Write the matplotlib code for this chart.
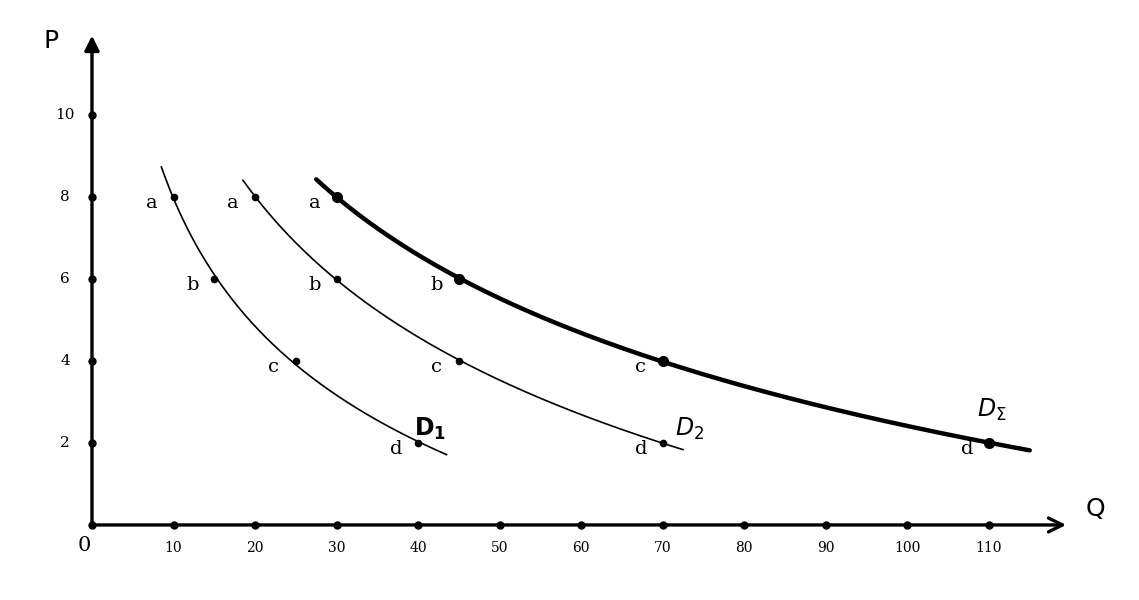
import numpy as np
import matplotlib

matplotlib.use("Agg")
import matplotlib.pyplot as plt

# demand points (Q, P)
labels = ["a", "b", "c", "d"]
prices = [8, 6, 4, 2]
q_d1 = [10, 15, 25, 40]
q_d2 = [20, 30, 45, 70]
q_sum = [30, 45, 70, 110]

# how far each hand-drawn curve runs (Q at start, Q at end)
span_d1 = (8.5, 43.5)
span_d2 = (18.5, 72.5)
span_sum = (27.5, 115.0)

x_ticks = [10, 20, 30, 40, 50, 60, 70, 80, 90, 100, 110]
y_ticks = [2, 4, 6, 8, 10]

fig = plt.figure(figsize=(11.39, 6.0), dpi=100)
ax = fig.add_axes([0, 0, 1, 1])
ax.set_xlim(-11.28, 128.4)
ax.set_ylim(-1.83, 12.8)
ax.axis("off")

# axes with arrows
ax.annotate("", xy=(119.8, 0), xytext=(0, 0),
            arrowprops=dict(arrowstyle="->", lw=2.4, color="black", mutation_scale=25))
ax.annotate("", xy=(0, 12.0), xytext=(0, 0),
            arrowprops=dict(arrowstyle="-|>", lw=2.4, color="black", mutation_scale=22))
ax.plot([0] + x_ticks, [0] * (len(x_ticks) + 1), "o", color="black", ms=5)
ax.plot([0] * len(y_ticks), y_ticks, "o", color="black", ms=5)

for x in x_ticks:
    ax.text(x, -0.55, str(x), ha="center", va="center", fontsize=10, family="DejaVu Serif")
for y in y_ticks:
    ax.text(-3.3, y, str(y), ha="center", va="center", fontsize=11, family="DejaVu Serif")
ax.text(-0.9, -0.5, "0", ha="center", va="center", fontsize=15, family="DejaVu Serif")
ax.text(-5.0, 11.8, "P", ha="center", va="center", fontsize=18)
ax.text(123.0, 0.4, "Q", ha="center", va="center", fontsize=18)


def draw_curve(qs, span, lw, ms, name, name_xy, name_size):
    coef = np.polyfit(np.log(qs), prices, 2)
    qq = np.linspace(span[0], span[1], 200)
    ax.plot(qq, np.polyval(coef, np.log(qq)), color="black", lw=lw, solid_capstyle="round")
    ax.plot(qs, prices, "o", color="black", ms=ms)
    for q, p, lab in zip(qs, prices, labels):
        ax.text(q - 2.7, p - 0.15, lab, ha="center", va="center", fontsize=14,
                family="DejaVu Serif")
    ax.text(name_xy[0], name_xy[1], name, ha="left", va="center", fontsize=name_size)


draw_curve(q_d1, span_d1, 1.2, 4.5, r"$\mathbf{D_1}$", (39.5, 2.35), 17)
draw_curve(q_d2, span_d2, 1.2, 4.5, r"$D_2$", (71.5, 2.35), 17)
draw_curve(q_sum, span_sum, 3.2, 7, r"$D_\Sigma$", (108.5, 2.8), 17)

fig.savefig("out.png", dpi=100, facecolor="white")
